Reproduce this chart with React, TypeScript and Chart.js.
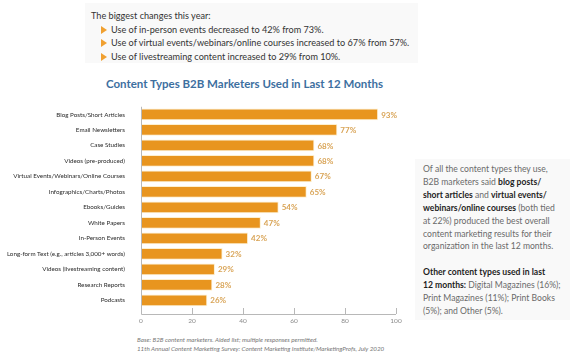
import React, { useEffect, useRef } from "react";
import { Chart, registerables } from "chart.js";

Chart.register(...registerables);

const categories = [
  "Blog Posts/Short Articles",
  "Email Newsletters",
  "Case Studies",
  "Videos (pre-produced)",
  "Virtual Events/Webinars/Online Courses",
  "Infographics/Charts/Photos",
  "Ebooks/Guides",
  "White Papers",
  "In-Person Events",
  "Long-form Text (e.g., articles 3,000+ words)",
  "Videos (livestreaming content)",
  "Research Reports",
  "Podcasts",
];
const values = [93, 77, 68, 68, 67, 65, 54, 47, 42, 32, 29, 28, 26];
const xTicks = [0, 20, 40, 60, 80, 100];

const titleText = "Content Types B2B Marketers Used in Last 12 Months";
const changesHeading = "The biggest changes this year:";
const changes = [
  "Use of in-person events decreased to 42% from 73%.",
  "Use of virtual events/webinars/online courses increased to 67% from 57%.",
  "Use of livestreaming content increased to 29% from 10%.",
];
const footnotes = [
  "Base: B2B content marketers. Aided list; multiple responses permitted.",
  "11th Annual Content Marketing Survey: Content Marketing Institute/MarketingProfs, July 2020",
];

const FONT = "Lato, 'Open Sans', sans-serif";
const BAR = "#e8951f";

const valueLabels = {
  id: "valueLabels",
  afterDatasetsDraw(chart: any) {
    const ctx = chart.ctx;
    const meta = chart.getDatasetMeta(0);
    ctx.save();
    ctx.font = `bold 8px ${FONT}`;
    ctx.fillStyle = "#d9a456";
    ctx.textBaseline = "middle";
    ctx.textAlign = "left";
    meta.data.forEach((bar: any, i: number) => {
      ctx.fillText(values[i] + "%", bar.x + 3, bar.y + 0.5);
    });
    ctx.restore();
  },
};

const axisLines = {
  id: "axisLines",
  afterDraw(chart: any) {
    const ctx = chart.ctx;
    const x = chart.scales.x;
    const area = chart.chartArea;
    const yAxisY = area.bottom + 6;
    ctx.save();
    ctx.strokeStyle = "#b8b8b8";
    ctx.lineWidth = 1;
    ctx.beginPath();
    ctx.moveTo(x.getPixelForValue(0) + 0.5, area.top);
    ctx.lineTo(x.getPixelForValue(0) + 0.5, yAxisY + 0.5);
    ctx.lineTo(x.getPixelForValue(100), yAxisY + 0.5);
    ctx.stroke();
    ctx.restore();
  },
};

function BarChart() {
  const ref = useRef<HTMLCanvasElement | null>(null);
  useEffect(() => {
    if (!ref.current) return;
    const chart = new Chart(ref.current, {
      type: "bar",
      data: {
        labels: categories,
        datasets: [
          {
            data: values,
            backgroundColor: BAR,
            borderColor: "#fdf0d0",
            borderWidth: 1,
            categoryPercentage: 1,
            barPercentage: 0.76,
          },
        ],
      },
      options: {
        indexAxis: "y",
        animation: false,
        responsive: false,
        maintainAspectRatio: false,
        layout: { padding: { top: 8, right: 24, bottom: 0, left: 0 } },
        plugins: {
          legend: { display: false },
          tooltip: { enabled: false },
          title: { display: false },
        },
        scales: {
          x: {
            min: 0,
            max: 100,
            afterBuildTicks: (s: any) => {
              s.ticks = xTicks.map((v) => ({ value: v }));
            },
            afterFit: (s: any) => {
              s.height = 20;
            },
            border: { display: false },
            grid: {
              drawOnChartArea: false,
              drawTicks: true,
              tickLength: 6,
              color: (c: any) => (c.tick && c.tick.value === 0 ? "rgba(0,0,0,0)" : "#b8b8b8"),
            },
            ticks: {
              padding: 3,
              color: "#8a8a8a",
              font: { family: FONT, size: 6.5 },
              maxRotation: 0,
            },
          },
          y: {
            afterFit: (s: any) => {
              s.width = 141;
            },
            border: { display: false },
            grid: { display: false },
            ticks: {
              padding: 8,
              color: "#2a2a2a",
              font: { family: FONT, size: 6.25 },
              autoSkip: false,
            },
          },
        },
      },
      plugins: [valueLabels, axisLines],
    });
    return () => chart.destroy();
  }, []);
  return (
    <canvas
      ref={ref}
      width={420}
      height={233}
      style={{ position: "absolute", left: 0, top: 95, width: 420, height: 233 }}
    />
  );
}

export default function App() {
  useEffect(() => {
    document.body.style.margin = "0";
  }, []);
  const bullet = (
    <span
      style={{
        display: "inline-block",
        width: 0,
        height: 0,
        borderTop: "4px solid transparent",
        borderBottom: "4px solid transparent",
        borderLeft: "6px solid #f0a030",
        marginRight: 4,
        verticalAlign: "-1px",
      }}
    />
  );
  const B = (p: { children: React.ReactNode }) => (
    <b style={{ color: "#1e1e1e" }}>{p.children}</b>
  );
  return (
    <div
      style={{
        position: "fixed",
        left: 0,
        top: 0,
        width: 570,
        height: 358,
        background: "#ffffff",
        fontFamily: FONT,
        overflow: "hidden",
      }}
    >
      <div
        style={{
          position: "absolute",
          left: 85,
          top: 3,
          width: 333,
          height: 60,
          background: "#f9f9f9",
        }}
      />
      <div
        style={{
          position: "absolute",
          left: 91,
          top: 9,
          fontSize: 9.15,
          lineHeight: "13.5px",
          color: "#333",
          whiteSpace: "nowrap",
        }}
      >
        <div>{changesHeading}</div>
        {changes.map((c) => (
          <div key={c} style={{ paddingLeft: 10 }}>
            {bullet}
            {c}
          </div>
        ))}
      </div>
      <div
        style={{
          position: "absolute",
          left: 0,
          width: 489,
          top: 77,
          textAlign: "center",
          fontSize: 11.5,
          fontWeight: 700,
          color: "#3d6f9f",
          whiteSpace: "nowrap",
        }}
      >
        {titleText}
      </div>
      <BarChart />
      <div
        style={{
          position: "absolute",
          left: 137,
          top: 335,
          fontSize: 6.25,
          lineHeight: "9px",
          fontStyle: "italic",
          color: "#777",
          whiteSpace: "nowrap",
        }}
      >
        {footnotes.map((f) => (
          <div key={f}>{f}</div>
        ))}
      </div>
      <div
        style={{
          position: "absolute",
          left: 415,
          top: 159,
          width: 155,
          height: 161,
          background: "#f9f9f9",
        }}
      />
      <div
        style={{
          position: "absolute",
          left: 423,
          top: 163,
          fontSize: 8.6,
          lineHeight: "12.9px",
          color: "#6a6a6a",
          whiteSpace: "nowrap",
        }}
      >
        <div>
          Of all the content types they use,
          <br />
          B2B marketers said <B>blog posts/</B>
          <br />
          <B>short articles</B> and <B>virtual events/</B>
          <br />
          <B>webinars/online courses</B> (both tied
          <br />
          at 22%) produced the best overall
          <br />
          content marketing results for their
          <br />
          organization in the last 12 months.
        </div>
        <div style={{ marginTop: 12.5 }}>
          <B>Other content types used in last</B>
          <br />
          <B>12 months:</B> Digital Magazines (16%);
          <br />
          Print Magazines (11%); Print Books
          <br />
          (5%); and Other (5%).
        </div>
      </div>
    </div>
  );
}
